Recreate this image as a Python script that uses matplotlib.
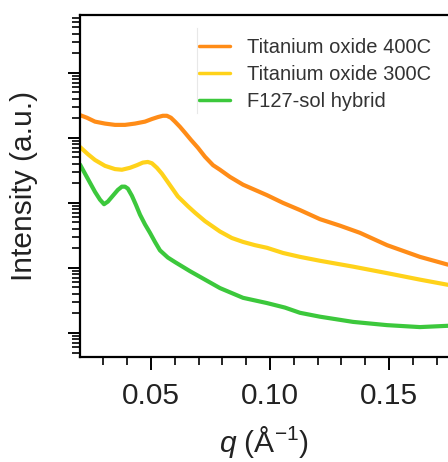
import numpy as np
import matplotlib
matplotlib.use("Agg")
from matplotlib import pyplot as plt
from matplotlib.lines import Line2D
from matplotlib.ticker import LogLocator, MultipleLocator, NullFormatter, FormatStrFormatter

plt.rcParams['font.family'] = ['Liberation Sans', 'DejaVu Sans']
plt.rcParams['mathtext.fontset'] = 'custom'
plt.rcParams['mathtext.rm'] = 'Liberation Sans'
plt.rcParams['mathtext.it'] = 'Liberation Sans:italic'

# Datos: q en 1/A, log10 de la intensidad (u.a.)
q_400 = [0.0202, 0.0231, 0.0265, 0.0307, 0.0349, 0.0391, 0.0433, 0.0475, 0.0504, 0.0529,
         0.0550, 0.0567, 0.0584, 0.0601, 0.0622, 0.0643, 0.0668, 0.0697, 0.0727, 0.0761,
         0.0790, 0.0832, 0.0887, 0.0937, 0.0987, 0.1055, 0.1126, 0.1210, 0.1294, 0.1378,
         0.1492, 0.1630, 0.1748]
log_i_400 = [3.35, 3.31, 3.25, 3.22, 3.20, 3.20, 3.22, 3.25, 3.29, 3.32,
             3.34, 3.34, 3.31, 3.25, 3.17, 3.08, 2.97, 2.85, 2.71, 2.58,
             2.51, 2.40, 2.28, 2.20, 2.12, 2.00, 1.89, 1.75, 1.65, 1.54,
             1.35, 1.17, 1.05]

q_300 = [0.0202, 0.0235, 0.0265, 0.0307, 0.0349, 0.0378, 0.0412, 0.0441, 0.0466, 0.0487,
         0.0504, 0.0525, 0.0546, 0.0571, 0.0613, 0.0655, 0.0685, 0.0727, 0.0790, 0.0840,
         0.0887, 0.0937, 0.0987, 0.1055, 0.1126, 0.1210, 0.1349, 0.1492, 0.1630, 0.1748]
log_i_300 = [2.86, 2.75, 2.66, 2.57, 2.52, 2.51, 2.54, 2.58, 2.62, 2.63,
             2.61, 2.54, 2.45, 2.32, 2.10, 1.95, 1.85, 1.72, 1.56, 1.46,
             1.40, 1.35, 1.31, 1.23, 1.17, 1.11, 1.02, 0.92, 0.82, 0.74]

q_f127 = [0.0202, 0.0223, 0.0244, 0.0265, 0.0286, 0.0303, 0.0319, 0.0340, 0.0361, 0.0378,
          0.0391, 0.0403, 0.0420, 0.0437, 0.0454, 0.0475, 0.0496, 0.0517, 0.0538, 0.0571,
          0.0601, 0.0664, 0.0727, 0.0790, 0.0887, 0.0987, 0.1063, 0.1126, 0.1210, 0.1349,
          0.1492, 0.1630, 0.1748]
log_i_f127 = [2.59, 2.45, 2.31, 2.17, 2.05, 1.98, 2.02, 2.11, 2.20, 2.25,
              2.25, 2.22, 2.11, 1.97, 1.82, 1.67, 1.54, 1.40, 1.27, 1.16,
              1.09, 0.95, 0.82, 0.69, 0.54, 0.46, 0.39, 0.31, 0.25, 0.17,
              0.12, 0.09, 0.11]

etiquetas = ['Titanium oxide 400C', 'Titanium oxide 300C', 'F127-sol hybrid']
colores = ['#ff8c17', '#ffd21a', '#3cc83c']

fig = plt.figure(figsize=(4.48, 4.62), dpi=100)
ax = fig.add_axes([80/448, 1 - 357/462, 1 - 80/448, (357 - 15)/462])

series = [(q_400, log_i_400), (q_300, log_i_300), (q_f127, log_i_f127)]
for (q, li), lab, col in zip(series, etiquetas, colores):
    ax.plot(q, 10**np.array(li), color=col, lw=3.0, label=lab,
            solid_joinstyle='round', solid_capstyle='round')

ax.set_yscale('log')
ax.set_xlim(0.0202, 0.1748)
ax.set_ylim(10**-0.37, 10**4.89)

ax.xaxis.set_major_locator(MultipleLocator(0.05))
ax.xaxis.set_minor_locator(MultipleLocator(0.01))
ax.xaxis.set_major_formatter(FormatStrFormatter('%.2f'))
ax.yaxis.set_major_locator(LogLocator(base=10, numticks=20))
ax.yaxis.set_minor_locator(LogLocator(base=10, subs=np.arange(2, 10), numticks=20))
ax.yaxis.set_major_formatter(NullFormatter())
ax.yaxis.set_minor_formatter(NullFormatter())

ax.tick_params(which='major', length=9, width=1.4, labelsize=21.5, pad=9,
               direction='out', labelcolor='#222222')
ax.tick_params(which='minor', length=5.5, width=1.2, direction='out')
ax.spines['right'].set_visible(False)
for s in ['left', 'bottom', 'top']:
    ax.spines[s].set_linewidth(1.6)

ax.set_ylabel('Intensity (a.u.)', fontsize=21.5, labelpad=12, color='#222222')
ax.set_xlabel(r'$q$ (Å$^{-1}$)', fontsize=21.5, labelpad=10, color='#222222')

leg = ax.legend(loc='upper left', bbox_to_anchor=(189/448, 1 - 28/462),
                bbox_transform=fig.transFigure, frameon=False, fontsize=14.5,
                borderpad=0, handlelength=1.55, handletextpad=0.85, labelspacing=0.4)
for linea in leg.get_lines():
    linea.set_linewidth(2.5)
for t in leg.get_texts():
    t.set_color('#333333')

fig.add_artist(Line2D([197/448, 197/448], [1 - 28/462, 1 - 113/462],
                      transform=fig.transFigure, color='#e8e8e8', lw=0.8))

fig.savefig('out.png', dpi=100)
